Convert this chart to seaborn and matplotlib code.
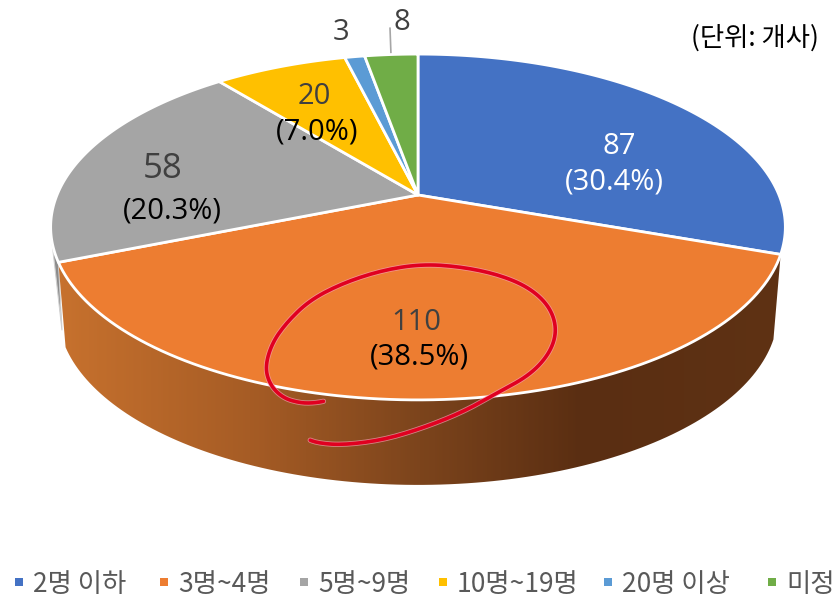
import numpy as np
import matplotlib
matplotlib.use('Agg')
import matplotlib.pyplot as plt
import seaborn as sns
from matplotlib.colors import LinearSegmentedColormap
from matplotlib.patches import Polygon

# data
categories = ['2명 이하', '3명~4명', '5명~9명', '10명~19명', '20명 이상', '미정']
values = [87, 110, 58, 20, 3, 8]
slice_colors = ['#4472C4', '#ED7D31', '#A5A5A5', '#FFC000', '#5B9BD5', '#70AD47']
unit_label = '(단위: 개사)'

# hand drawn red circle over the biggest slice
scribble_x = [330, 315, 300, 283, 270, 265, 272, 287, 310, 343, 383, 423, 463, 500, 530,
              550, 557, 550, 530, 497, 463, 423, 383, 343, 317, 305]
scribble_y = [400, 403, 403, 398, 385, 367, 343, 322, 300, 283, 270, 264, 267, 275, 288,
              307, 330, 353, 375, 393, 412, 428, 440, 445, 443, 438]

sns.set_theme(style='white')
plt.rcParams['font.family'] = ['Noto Sans CJK KR', 'DejaVu Sans']
palette = sns.color_palette(slice_colors)

fig, ax = plt.subplots(figsize=(8.33, 5.98), dpi=100)
ax.set_position([0, 0, 1, 1])
ax.set_xlim(0, 833)
ax.set_ylim(598, 0)
ax.axis('off')

# perspective of the pie disc
CX, CY = 418, 195
RX, RY, K = 361, 167, 0.185


def rim(deg, scale=1.0, dy=0):
    a = np.radians(deg)
    u, v = np.sin(a), np.cos(a)
    w = 1 + K * v
    return CX + scale * RX * u / w, CY + dy + RY * (-v) / w


total = sum(values)
edges = np.concatenate([[0], np.cumsum(values)]) / total * 360

# side wall, thin gray sliver first
ang = np.linspace(edges[2], edges[2] + 10, 20)
x1, y1 = rim(ang)
x2, y2 = rim(edges[2], 0.99, 68)
ax.add_patch(Polygon(np.c_[np.r_[x1, x2], np.r_[y1, y2]], fc='#8c8c8c', ec='#d0d0d0', lw=0.8, zorder=1))

# orange wall with the shading left to right
ang = np.linspace(edges[1], edges[2], 120)
x1, y1 = rim(ang)
x2, y2 = rim(ang[::-1], 0.98, 85)
wall = Polygon(np.c_[np.r_[x1, x2], np.r_[y1, y2]], fc='none', ec='none', zorder=2)
ax.add_patch(wall)
shade = LinearSegmentedColormap.from_list('wall', [(0, '#C8722E'), (0.27, '#A65C25'), (0.5, '#7C441C'),
                                                   (0.72, '#5A2E12'), (1, '#5F3214')])
img = ax.imshow(np.linspace(0, 1, 300)[None, :], cmap=shade, extent=(50, 790, 598, 0),
                aspect='auto', zorder=2)
img.set_clip_path(wall)
ax.set_xlim(0, 833)
ax.set_ylim(598, 0)

# top of the pie
for i, c in enumerate(palette):
    ang = np.linspace(edges[i], edges[i + 1], 100)
    x, y = rim(ang)
    ax.add_patch(Polygon(np.c_[np.r_[CX, x], np.r_[CY, y]], fc=c, ec='white', lw=2, joinstyle='round', zorder=3))

# labels, two lines each
label_pos = [(619, 147, 614, 182), (416, 322, 419, 357), (163, 169, 172, 211), (314, 96, 317, 132)]
label_colors = [('white', 'white'), ('#404040', 'black'), ('#404040', 'black'), ('#404040', 'black')]
label_sizes = [21, 21, 25, 21]
for v, pos, cols, fs in zip(values, label_pos, label_colors, label_sizes):
    ax.text(pos[0], pos[1], str(v), color=cols[0], fontsize=fs, ha='center', va='center', family='Open Sans', zorder=5)
    ax.text(pos[2], pos[3], f'({v / total * 100:.1f}%)', color=cols[1], fontsize=21, ha='center', va='center',
            family='Open Sans', zorder=5)
ax.text(341, 32, str(values[4]), color='#404040', fontsize=21, ha='center', va='center', family='Open Sans')
ax.text(402, 22, str(values[5]), color='#404040', fontsize=21, ha='center', va='center', family='Open Sans')
ax.plot([390, 391], [28, 55], color='#A6A6A6', lw=1.2, zorder=2)

ax.text(755, 38, unit_label, color='black', fontsize=19, ha='center', va='center')

# red scribble, corners cut so the line looks drawn by hand
pts = np.c_[scribble_x, scribble_y].astype(float)
for _ in range(3):
    q = 0.75 * pts[:-1] + 0.25 * pts[1:]
    r = 0.25 * pts[:-1] + 0.75 * pts[1:]
    pts = np.c_[q, r].reshape(-1, 2)
ax.plot(pts[:, 0], pts[:, 1], color='#F4A0B0', lw=3.8, alpha=0.7, solid_capstyle='round', zorder=6)
ax.plot(pts[:, 0], pts[:, 1], color='#E00020', lw=2.6, solid_capstyle='round', zorder=7)

# legend along the bottom
legend_x = [33, 178, 318, 457, 622, 786]
for name, c, lx in zip(categories, palette, legend_x):
    ax.scatter(lx - 14, 582, marker='s', s=38, color=c, linewidths=0)
    ax.text(lx, 584, name, color='#595959', fontsize=19, ha='left', va='center')

fig.savefig('out.png', dpi=100)
